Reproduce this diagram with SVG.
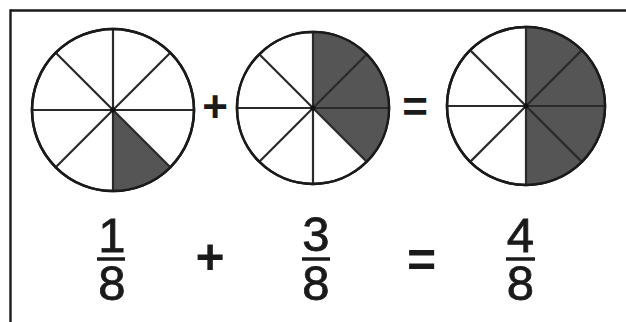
<svg xmlns="http://www.w3.org/2000/svg" width="626" height="322" viewBox="0 0 626 322">
  <style>
    .rim { fill: #ffffff; stroke: #1a1a1a; stroke-width: 2.5; }
    .spoke { stroke: #2a2a2a; stroke-width: 2.2; fill: none; }
    .shade { fill: #555555; stroke: none; }
    .frame { stroke: #1a1a1a; stroke-width: 2.4; fill: none; }
    .op { font-family: "Liberation Sans", Arial, sans-serif; font-weight: bold; fill: #1a1a1a; text-anchor: middle; }
    .num { font-family: "Liberation Sans", Arial, sans-serif; font-size: 49px; fill: #1a1a1a; stroke: #1a1a1a; stroke-width: 0.8; text-anchor: middle; }
    .bar { stroke: #1a1a1a; stroke-width: 3.5; }
  </style>
  <rect width="626" height="322" fill="#ffffff"/>
  <g id="frame">
    <line class="frame" x1="10.5" y1="10.5" x2="626" y2="10.5"/>
    <line class="frame" x1="10.5" y1="9.3" x2="10.5" y2="322"/>
  </g>

  <g id="circle-one-eighth">
    <circle class="rim" cx="113" cy="110" r="81"/>
    <path class="shade" d="M113,110 L113,191 A81,81 0 0 0 170.3,167.3 Z"/>
    <line class="spoke" x1="113" y1="29" x2="113" y2="191"/>
    <line class="spoke" x1="32" y1="110" x2="194" y2="110"/>
    <line class="spoke" x1="55.7" y1="52.7" x2="170.3" y2="167.3"/>
    <line class="spoke" x1="55.7" y1="167.3" x2="170.3" y2="52.7"/>
    <circle cx="113" cy="110" r="81" fill="none" stroke="#1a1a1a" stroke-width="2.5"/>
    <circle cx="113" cy="110" r="2.5" fill="#111"/>
  </g>

  <g id="plus-top">
    <text class="op" x="215" y="122" font-size="44">+</text>
  </g>

  <g id="circle-three-eighths">
    <circle class="rim" cx="313" cy="108" r="76"/>
    <path class="shade" d="M313,108 L313,32 A76,76 0 0 1 366.7,161.7 Z"/>
    <line class="spoke" x1="313" y1="32" x2="313" y2="184"/>
    <line class="spoke" x1="237" y1="108" x2="389" y2="108"/>
    <line class="spoke" x1="259.3" y1="54.3" x2="366.7" y2="161.7"/>
    <line class="spoke" x1="259.3" y1="161.7" x2="366.7" y2="54.3"/>
    <circle cx="313" cy="108" r="76" fill="none" stroke="#1a1a1a" stroke-width="2.5"/>
    <circle cx="313" cy="108" r="2.5" fill="#111"/>
  </g>

  <g id="equals-top">
    <text class="op" x="415" y="122" font-size="44">=</text>
  </g>

  <g id="circle-four-eighths">
    <circle class="rim" cx="526" cy="106" r="79"/>
    <path class="shade" d="M526,106 L526,27 A79,79 0 0 1 526,185 Z"/>
    <line class="spoke" x1="526" y1="27" x2="526" y2="185"/>
    <line class="spoke" x1="447" y1="106" x2="605" y2="106"/>
    <line class="spoke" x1="470.1" y1="50.1" x2="581.9" y2="161.9"/>
    <line class="spoke" x1="470.1" y1="161.9" x2="581.9" y2="50.1"/>
    <circle cx="526" cy="106" r="79" fill="none" stroke="#1a1a1a" stroke-width="2.5"/>
    <circle cx="526" cy="106" r="2.5" fill="#111"/>
  </g>

  <g id="fraction-1-8">
    <text class="num" x="112" y="251.5">1</text>
    <line class="bar" x1="97" y1="259" x2="125" y2="259"/>
    <text class="num" x="112" y="299.5">8</text>
  </g>

  <g id="plus-bottom">
    <text class="op" x="210" y="273.5" font-size="50">+</text>
  </g>

  <g id="fraction-3-8">
    <text class="num" x="316" y="251">3</text>
    <line class="bar" x1="302" y1="259" x2="330" y2="259"/>
    <text class="num" x="316" y="299.5">8</text>
  </g>

  <g id="equals-bottom">
    <text class="op" x="421.5" y="277" font-size="50">=</text>
  </g>

  <g id="fraction-4-8">
    <text class="num" x="520.5" y="251.5">4</text>
    <line class="bar" x1="506" y1="259" x2="535" y2="259"/>
    <text class="num" x="520.5" y="299.5">8</text>
  </g>
</svg>
